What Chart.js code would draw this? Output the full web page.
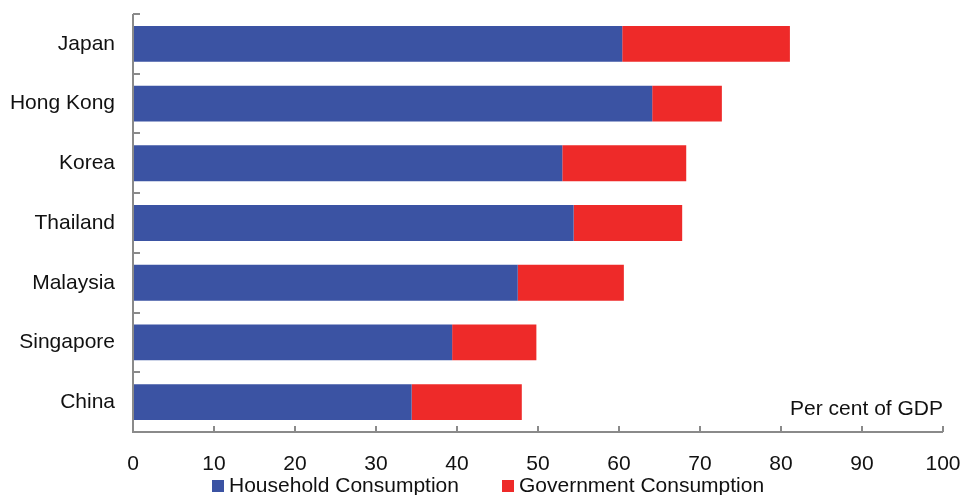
<!DOCTYPE html>
<html>
<head>
<meta charset="utf-8">
<script src="https://cdn.jsdelivr.net/npm/chart.js@4/dist/chart.umd.min.js"></script>
<style>
  html, body { margin: 0; padding: 0; background: #fff; }
  #wrap { width: 963px; height: 495px; }
</style>
</head>
<body>
<div id="wrap"><canvas id="myChart"></canvas></div>
<script>
const countries = ['Japan', 'Hong Kong', 'Korea', 'Thailand', 'Malaysia', 'Singapore', 'China'];
const household = [60.4, 64.1, 53.0, 54.4, 47.5, 39.4, 34.4];
const government = [20.7, 8.6, 15.3, 13.4, 13.1, 10.4, 13.6];
const xTicks = [0, 10, 20, 30, 40, 50, 60, 70, 80, 90, 100];

const blue = '#3b53a3';
const red = '#ee2a29';
const axisGrey = '#8a8a8a';
const fontFamily = '"Liberation Sans", Arial, sans-serif';

// axis lines + inward tick marks, unit note and legend
const decor = {
    id: 'decor',
    afterDraw(chart) {
        const ctx = chart.ctx;
        const area = chart.chartArea;
        const x = chart.scales.x;
        const y = chart.scales.y;
        ctx.save();
        ctx.strokeStyle = axisGrey;
        ctx.lineWidth = 2;
        ctx.beginPath();
        ctx.moveTo(area.left, area.top);
        ctx.lineTo(area.left, area.bottom);
        ctx.lineTo(area.right, area.bottom);
        // category boundaries
        for (let i = 0; i <= countries.length; i++) {
            const py = Math.round(y.getPixelForValue(i - 0.5));
            ctx.moveTo(area.left, py);
            ctx.lineTo(area.left + 7, py);
        }
        xTicks.forEach(v => {
            const px = Math.round(x.getPixelForValue(v));
            ctx.moveTo(px, area.bottom);
            ctx.lineTo(px, area.bottom - 6);
        });
        ctx.stroke();

        ctx.fillStyle = '#111';
        ctx.font = '21px ' + fontFamily;
        ctx.textAlign = 'right';
        ctx.textBaseline = 'alphabetic';
        ctx.fillText('Per cent of GDP', area.right, area.bottom - 17);

        // legend
        const items = [
            { x: 212, ds: chart.data.datasets[0] },
            { x: 502, ds: chart.data.datasets[1] }
        ];
        ctx.textAlign = 'left';
        items.forEach(it => {
            ctx.fillStyle = it.ds.backgroundColor;
            ctx.fillRect(it.x, 480, 12, 12);
            ctx.fillStyle = '#111';
            ctx.fillText(it.ds.label, it.x + 17, 492);
        });
        ctx.restore();
    }
};

const data = {
    labels: countries,
    datasets: [{
        label: 'Household Consumption',
        backgroundColor: blue,
        data: household,
        barPercentage: 0.6,
        categoryPercentage: 1
    }, {
        label: 'Government Consumption',
        backgroundColor: red,
        data: government,
        barPercentage: 0.6,
        categoryPercentage: 1
    }]
};

const config = {
    type: 'bar',
    data: data,
    options: {
        indexAxis: 'y',
        responsive: true,
        maintainAspectRatio: false,
        animation: false,
        layout: { padding: { top: 14, right: 20, left: 0, bottom: 0 } },
        plugins: {
            legend: { display: false },
            tooltip: { enabled: false }
        },
        scales: {
            x: {
                stacked: true,
                min: 0,
                max: 100,
                afterBuildTicks: (scale) => { scale.ticks = xTicks.map(v => ({ value: v })); },
                afterFit: (scale) => {
                    scale.height = 63;
                    scale.paddingLeft = 0;
                    scale.paddingRight = 0;
                },
                border: { display: false },
                grid: { display: false, drawTicks: false },
                ticks: {
                    color: '#111',
                    padding: 20,
                    maxRotation: 0,
                    font: { family: fontFamily, size: 21 }
                }
            },
            y: {
                stacked: true,
                afterFit: (scale) => {
                    scale.width = 133;
                    scale.paddingTop = 0;
                    scale.paddingBottom = 0;
                },
                border: { display: false },
                grid: { display: false, drawTicks: false },
                ticks: {
                    color: '#111',
                    padding: 18,
                    font: { family: fontFamily, size: 21 }
                }
            }
        }
    },
    plugins: [decor]
};

const myChart = new Chart(document.getElementById('myChart'), config);
</script>
</body>
</html>
